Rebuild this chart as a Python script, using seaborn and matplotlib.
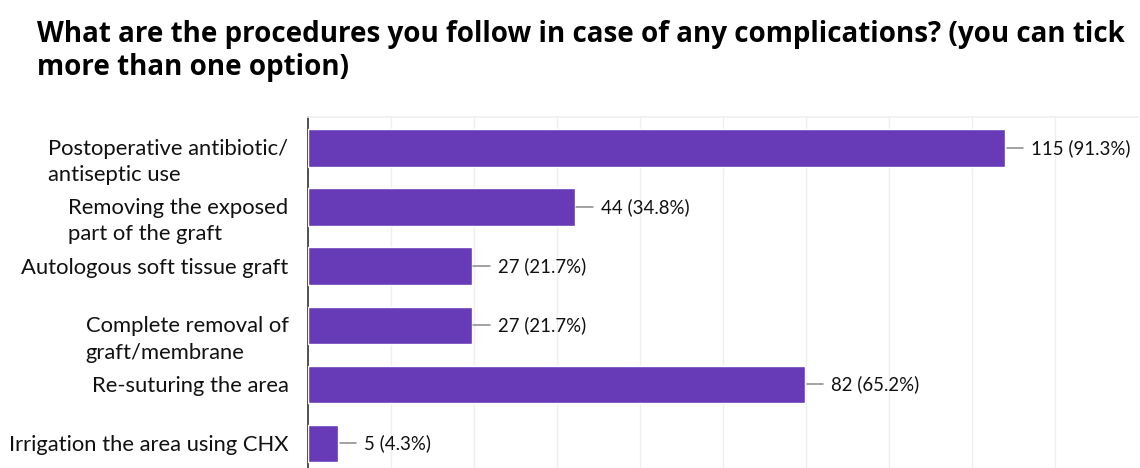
import matplotlib
matplotlib.use("Agg")
import matplotlib.pyplot as plt
import matplotlib.transforms as mtransforms
import seaborn as sns
import numpy as np
import pandas as pd

categories = [
    "Postoperative antibiotic/\nantiseptic use",
    "Removing the exposed\npart of the graft",
    "Autologous soft tissue graft",
    "Complete removal of\ngraft/membrane",
    "Re-suturing the area",
    "Irrigation the area using CHX",
]
counts = [115, 44, 27, 27, 82, 5]
percents = ["91.3", "34.8", "21.7", "21.7", "65.2", "4.3"]

title = ("What are the procedures you follow in case of any complications? (you can tick\n"
         "more than one option)")

sns.set_theme(style="white")
plt.rcParams["font.family"] = ["Lato", "DejaVu Sans"]

df = pd.DataFrame({"cat": categories, "n": counts})

fig = plt.figure(figsize=(11.4, 4.68), dpi=100)
ax = fig.add_axes([308 / 1140, 0.0, (1138 - 308) / 1140, 1 - 117 / 468])

sns.barplot(data=df, x="n", y="cat", orient="h", color="#673ab7", saturation=1,
            width=0.63, ax=ax, zorder=3)

xmax = 137
ax.set_xlim(0, xmax)
ax.set_ylim(5.42, -0.525)
ax.set_xticks(np.linspace(0, xmax, 11))
ax.set_xticklabels([])
ax.grid(axis="x", color="#efefef", linewidth=1, zorder=0)
ax.tick_params(axis="x", length=0)
ax.tick_params(axis="y", length=0, pad=14, labelsize=15.8, labelcolor="#111111")
for lbl in ax.get_yticklabels():
    lbl.set_multialignment("left")
    lbl.set_linespacing(1.4)
    if "\n" in lbl.get_text():
        lbl.set_transform(lbl.get_transform() +
                          mtransforms.ScaledTranslation(0, -9 / 100, fig.dpi_scale_trans))
ax.set_xlabel("")
ax.set_ylabel("")

for s in ["right", "bottom"]:
    ax.spines[s].set_visible(False)
ax.spines["top"].set_color("#efefef")
ax.spines["left"].set_color("#333333")
ax.spines["left"].set_linewidth(1.2)

for i, (n, p) in enumerate(zip(counts, percents)):
    ax.plot([n + 0.3, n + 3.0], [i, i], color="#888888", linewidth=1.1, zorder=4)
    ax.text(n + 4.3, i, f"{n} ({p}%)", va="center", ha="left", fontsize=13.4,
            color="#111111", zorder=5)

fig.text(37 / 1140, 1 - 20 / 468, title, ha="left", va="top", fontsize=20,
         fontweight="bold", family=["Open Sans", "DejaVu Sans"], color="#000000",
         linespacing=1.2)

fig.savefig("out.png", dpi=100)
